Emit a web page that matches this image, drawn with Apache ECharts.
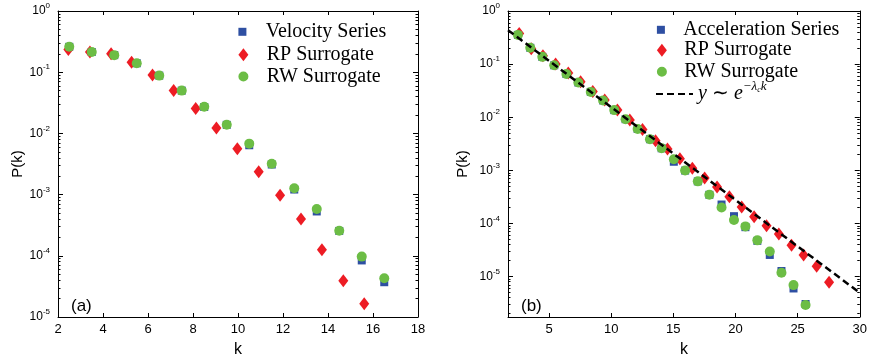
<!DOCTYPE html>
<html>
<head>
<meta charset="utf-8">
<script src="https://cdn.jsdelivr.net/npm/echarts@6/dist/echarts.min.js"></script>
<style>
  html, body { margin: 0; padding: 0; background: #fff; }
  #chart { width: 870px; height: 363px; }
</style>
</head>
<body>
<div id="chart"></div>
<script>
// panel (a): velocity series and surrogates
let kVel = [2.5, 3.5, 4.5, 5.5, 6.5, 7.5, 8.5, 9.5, 10.5, 11.5, 12.5, 13.5, 14.5, 15.5, 16.5];
let pVelocity = [0.26, 0.214, 0.19, 0.14, 0.088, 0.05, 0.027, 0.0138, 0.0064, 0.0031, 0.00121, 0.00053, 0.000255, 8.4e-5, 3.7e-5];
let pVelRW = [0.26, 0.214, 0.19, 0.14, 0.088, 0.05, 0.0273, 0.0138, 0.0068, 0.0032, 0.00127, 0.00058, 0.000257, 9.7e-5, 4.3e-5];
let kVelRP = [2.46, 3.42, 4.36, 5.27, 6.2, 7.14, 8.12, 9.04, 9.97, 10.92, 11.87, 12.8, 13.73, 14.68, 15.61];
let pVelRP = [0.235, 0.214, 0.2, 0.145, 0.09, 0.05, 0.0254, 0.0122, 0.0056, 0.00237, 0.00098, 0.0004, 0.000126, 3.9e-5, 1.64e-5];

// panel (b): acceleration series and surrogates
let kAcc = [2.5, 3.49, 4.46, 5.42, 6.4, 7.36, 8.36, 9.35, 10.25, 11.16, 12.13, 13.12, 14.06, 15.04, 15.95,
            16.97, 17.9, 18.88, 19.88, 20.8, 21.76, 22.76, 23.7, 24.67, 25.64];
let pAcceleration = [0.355, 0.203, 0.137, 0.095, 0.065, 0.045, 0.030, 0.0207, 0.0136, 0.00917, 0.006, 0.00385, 0.0026, 0.00145, 0.00099,
                     0.00062, 0.000346, 0.000227, 0.000137, 8.5e-5, 4.7e-5, 2.55e-5, 1.27e-5, 5.96e-6, 3.04e-6];
let pAccRW = [0.355, 0.203, 0.137, 0.095, 0.065, 0.045, 0.030, 0.0207, 0.0136, 0.00917, 0.006, 0.00385, 0.0026, 0.00162, 0.00099,
              0.00062, 0.000346, 0.0002, 0.000116, 8.8e-5, 4.8e-5, 2.95e-5, 1.18e-5, 6.9e-6, 2.9e-6];
let kAccRP = [2.6, 3.57, 4.51, 5.53, 6.55, 7.54, 8.52, 9.48, 10.5, 11.5, 12.52, 13.57, 14.53, 15.53, 16.53,
              17.52, 18.52, 19.51, 20.5, 21.5, 22.5, 23.49, 24.51, 25.48, 26.53, 27.53];
let pAccRP = [0.376, 0.194, 0.143, 0.1, 0.068, 0.0466, 0.0306, 0.0212, 0.0136, 0.0089, 0.00586, 0.00359, 0.00253, 0.00166, 0.00109,
              0.000716, 0.000484, 0.000318, 0.000203, 0.000133, 9.0e-5, 6.35e-5, 3.89e-5, 2.55e-5, 1.57e-5, 7.8e-6];
// dashed exponential guide, end points
let kFit = [1.7, 30];
let pFit = [0.436, 4.95e-6];

// tick labels
let kTicksA = [2, 4, 6, 8, 10, 12, 14, 16, 18];
let kTicksB = [5, 10, 15, 20, 25, 30];
let pTicks = [1e-5, 1e-4, 1e-3, 1e-2, 1e-1, 1];

let fitName = 'fit';
let colBlue = '#2e4fa2', colRed = '#ed1c24', colGreen = '#6cbd45';
let sans = '"Liberation Sans", Arial, sans-serif';
let serif = '"Liberation Serif", "Times New Roman", serif';

function zip(xs, ys) { return xs.map((x, i) => [x, ys[i]]); }

function minorTicks(lo, hi) {
  let out = [];
  for (let e = lo; e < hi; e++) {
    [2, 3, 4, 5, 6, 7, 8, 9].forEach(m => out.push(m * Math.pow(10, e)));
  }
  return out;
}

function xAx(grid, min, max, ticks, pos, main) {
  return {
    type: 'value', gridIndex: grid, position: pos, min: min, max: max,
    axisLine: { onZero: false, lineStyle: { color: '#000', width: 1 } },
    axisTick: { inside: true, length: 4, customValues: ticks, lineStyle: { color: '#000' } },
    axisLabel: { show: main, customValues: ticks, color: '#000', fontSize: 13, fontFamily: sans, margin: 6 },
    splitLine: { show: false },
    name: main ? 'k' : '', nameLocation: 'middle', nameGap: 25,
    nameTextStyle: { color: '#000', fontSize: 16, fontFamily: sans }
  };
}

function yAx(grid, min, pos, ticks, len, main, line, gap) {
  return {
    type: 'log', logBase: 10, gridIndex: grid, position: pos, min: min, max: 1,
    axisLine: { show: line, lineStyle: { color: '#000', width: 1 } },
    axisTick: { inside: true, length: len, customValues: ticks, lineStyle: { color: '#000' } },
    axisLabel: {
      show: main, customValues: ticks, margin: 8,
      formatter: v => '{b|10}{e|' + Math.round(Math.log10(v)) + '}',
      rich: {
        b: { fontSize: 12, fontFamily: sans, color: '#000' },
        e: { fontSize: 8, fontFamily: sans, color: '#000', padding: [0, 0, 10, 0] }
      }
    },
    splitLine: { show: false },
    name: main ? 'P(k)' : '', nameLocation: 'middle', nameGap: gap,
    nameTextStyle: { color: '#000', fontSize: 15, fontFamily: sans }
  };
}

function legendItem(name, icon, cx, cy, w, h, dy) {
  let item = { name: name };
  if (icon) item.icon = icon;
  let lg = {
    data: [item],
    left: cx - w / 2, top: cy - 7.5 + (dy || 0), padding: 0,
    itemWidth: w, itemHeight: h, selectedMode: false,
    textStyle: {
      color: '#000', fontSize: 20, fontFamily: serif,
      rich: {
        i: { fontSize: 20, fontFamily: serif, fontStyle: 'italic', color: '#000' },
        n: { fontSize: 20, fontFamily: serif, color: '#000' },
        s: { fontSize: 13, fontFamily: serif, fontStyle: 'italic', color: '#000', padding: [0, 0, 14, 0] },
        c: { fontSize: 8, fontFamily: serif, fontStyle: 'italic', color: '#000', padding: [0, 0, 8, 0] }
      }
    },
    formatter: n => n === fitName ? '{i|y} {n|∼} {i|e}{s|−λ}{c|c}{s|k}' : n
  };
  if (!icon) lg.itemStyle = { color: 'rgba(0,0,0,0)', borderWidth: 0, opacity: 0 };
  return lg;
}

let squareIcon = 'path://M0,0L8,0L8,8L0,8Z';
let diamondIcon = 'path://M5,0L10,6.5L5,13L0,6.5Z';
let circleIcon = 'path://M5,0A5,5,0,1,1,4.99,0Z';
let minorA = minorTicks(-5, 0);
let minorB = minorTicks(-6, 0);
let pMinB = 1.73e-6;

let option = {
  animation: false,
  backgroundColor: '#fff',
  grid: [
    { left: 58, top: 11, width: 360, height: 316 },
    { left: 508, top: 11, width: 360.3, height: 316 }
  ],
  xAxis: [
    xAx(0, 2, 18, kTicksA, 'bottom', true),
    xAx(0, 2, 18, kTicksA, 'top', false),
    xAx(1, 1.7, 30, kTicksB, 'bottom', true),
    xAx(1, 1.7, 30, kTicksB, 'top', false)
  ],
  yAxis: [
    yAx(0, 1e-5, 'left', pTicks, 5, true, true, 31),
    yAx(0, 1e-5, 'right', pTicks, 5, false, true, 0),
    yAx(0, 1e-5, 'left', minorA, 2.5, false, false, 0),
    yAx(0, 1e-5, 'right', minorA, 2.5, false, false, 0),
    yAx(1, pMinB, 'left', pTicks, 5, true, true, 38),
    yAx(1, pMinB, 'right', pTicks, 5, false, true, 0),
    yAx(1, pMinB, 'left', minorB, 2.5, false, false, 0),
    yAx(1, pMinB, 'right', minorB, 2.5, false, false, 0)
  ],
  legend: [
    legendItem('Velocity Series', squareIcon, 256.7, 29.3, 36.6, 8),
    legendItem('RP Surrogate', diamondIcon, 256.7, 52.3, 36.6, 13),
    legendItem('RW Surrogate', circleIcon, 256.7, 74, 36.6, 10),
    legendItem('Acceleration Series', squareIcon, 674.3, 27.3, 34.8, 8),
    legendItem('RP Surrogate', diamondIcon, 674.3, 47.7, 34.8, 13),
    legendItem('RW Surrogate', circleIcon, 674.3, 69.3, 34.8, 10),
    legendItem(fitName, null, 673.5, 94, 37, 14, -6)
  ],
  series: [
    { name: 'Velocity Series', type: 'scatter', xAxisIndex: 0, yAxisIndex: 0, symbol: 'rect', symbolSize: 8,
      itemStyle: { color: colBlue, opacity: 1 }, data: zip(kVel, pVelocity) },
    { name: 'RP Surrogate', type: 'scatter', xAxisIndex: 0, yAxisIndex: 0, symbol: 'diamond', symbolSize: [10, 13],
      itemStyle: { color: colRed, opacity: 1 }, data: zip(kVelRP, pVelRP) },
    { name: 'RW Surrogate', type: 'scatter', xAxisIndex: 0, yAxisIndex: 0, symbol: 'circle', symbolSize: 10,
      itemStyle: { color: colGreen, opacity: 1 }, data: zip(kVel, pVelRW) },
    { name: 'Acceleration Series', type: 'scatter', xAxisIndex: 2, yAxisIndex: 4, symbol: 'rect', symbolSize: 8,
      itemStyle: { color: colBlue, opacity: 1 }, data: zip(kAcc, pAcceleration) },
    { name: 'RP Surrogate', type: 'scatter', xAxisIndex: 2, yAxisIndex: 4, symbol: 'diamond', symbolSize: [10, 13],
      itemStyle: { color: colRed, opacity: 1 }, data: zip(kAccRP, pAccRP) },
    { name: fitName, type: 'line', xAxisIndex: 2, yAxisIndex: 4, symbol: 'none', clip: true,
      itemStyle: { color: '#000' }, lineStyle: { color: '#000', width: 2.5, type: [7, 4] },
      data: zip(kFit, pFit) },
    { name: 'RW Surrogate', type: 'scatter', xAxisIndex: 2, yAxisIndex: 4, symbol: 'circle', symbolSize: 10,
      itemStyle: { color: colGreen, opacity: 1 }, data: zip(kAcc, pAccRW) }
  ],
  graphic: [
    { type: 'text', left: 71, top: 298, style: { text: '(a)', font: '17px ' + sans, fill: '#000' } },
    { type: 'text', left: 521, top: 298, style: { text: '(b)', font: '17px ' + sans, fill: '#000' } }
  ]
};

let chart = echarts.init(document.getElementById('chart'));
chart.setOption(option);
</script>
</body>
</html>
